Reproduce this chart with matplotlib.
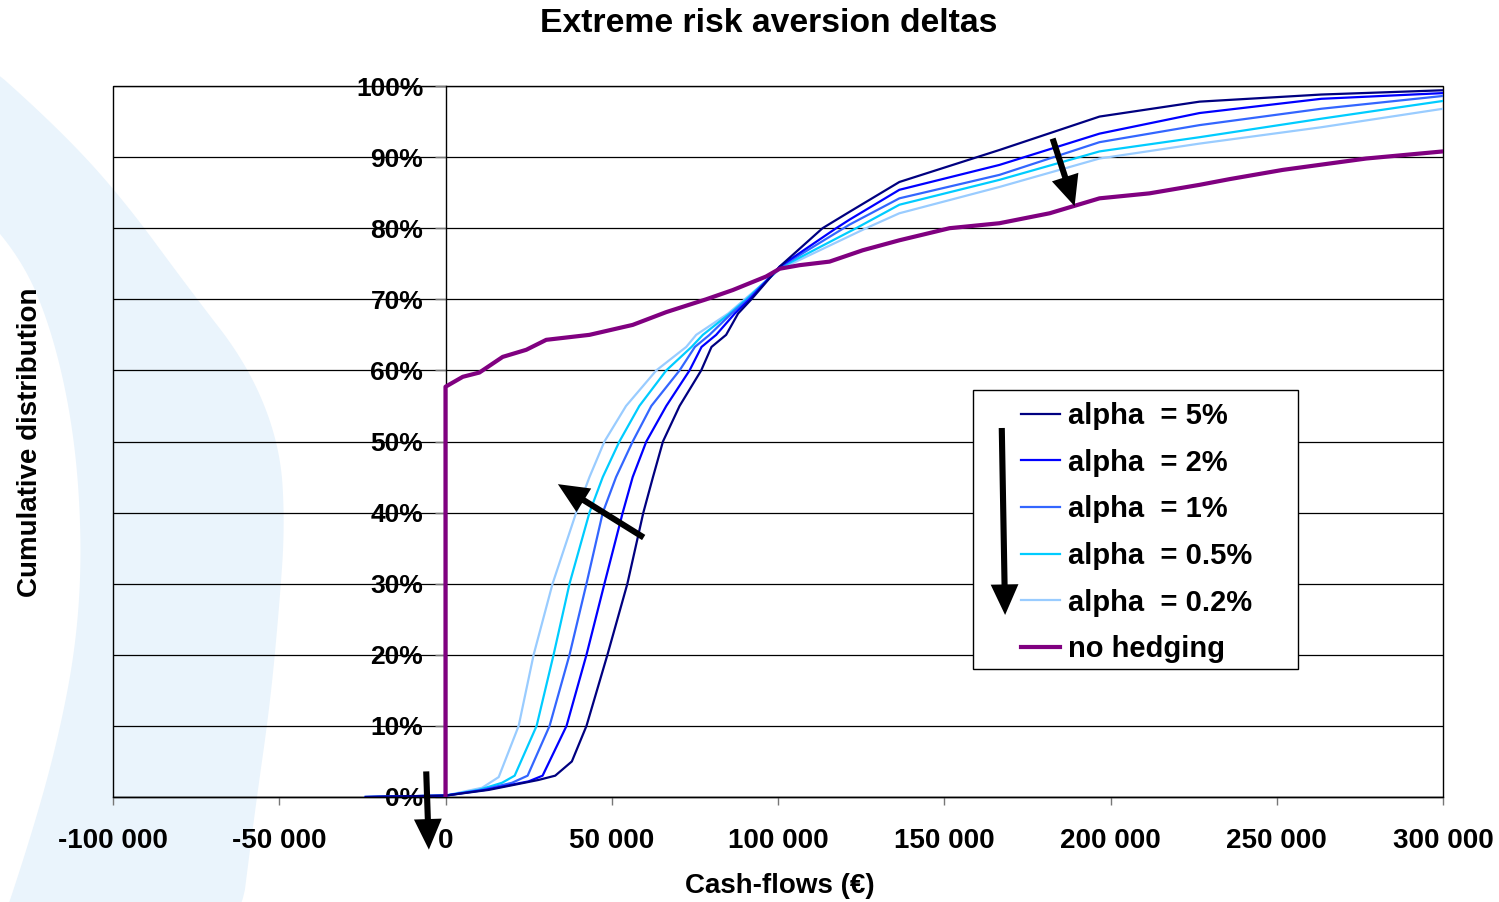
import matplotlib as mplt
mplt.use('Agg')
import matplotlib.pyplot as plt
import numpy as np
from matplotlib.patches import Rectangle, Polygon, FancyArrowPatch
from matplotlib.transforms import IdentityTransform
from matplotlib.ticker import FuncFormatter, PercentFormatter

mplt.rcParams['font.family'] = ['Liberation Sans', 'DejaVu Sans']
mplt.rcParams['font.weight'] = 'bold'

# cash-flow (x 1000 EUR) and cumulative share (%)
x_a5 = [-24, 0, 13, 28, 33, 38, 42.4, 48.7, 54.7, 59.5, 62.4, 65.4, 70.4, 76.9, 80, 84.4,
        88, 92, 100.5, 113.4, 121.5, 136.5, 166.6, 196.7, 226.8, 263.4, 300]
y_a5 = [0, 0.2, 1, 2.4, 3, 5, 10, 20, 30, 40, 45, 50, 55, 60, 63.3, 65,
        68, 70, 74.6, 80, 82.3, 86.5, 91, 95.7, 97.8, 98.8, 99.4]

x_a2 = [-24, 0, 12, 25, 29.2, 36.4, 42.4, 47.8, 53.3, 56.3, 60.4, 66.4, 73.4, 77, 81.4,
        87, 91.5, 100.5, 117.5, 121.5, 136.5, 166.6, 196.7, 226.8, 263.4, 300]
y_a2 = [0, 0.2, 1, 2.2, 3, 10, 20, 30, 40, 45, 50, 55, 60, 63.3, 65,
        68, 70, 74.6, 80, 81.2, 85.4, 88.9, 93.3, 96.2, 98.2, 99]

x_a1 = [-24, 0, 11, 20, 24.7, 31.3, 37.3, 42.4, 47.3, 51.3, 56.3, 61.9, 70.4, 75, 79.4,
        86, 91, 100.5, 121.5, 136.5, 166.6, 196.7, 226.8, 263.4, 300]
y_a1 = [0, 0.2, 1, 2, 3, 10, 20, 30, 40, 45, 50, 55, 60, 63.3, 65,
        68, 70, 74.5, 80.5, 84.2, 87.5, 92.1, 94.5, 96.8, 98.6]

x_a05 = [-24, 0, 10, 17, 20.8, 27.4, 32.5, 37.3, 43.3, 47.3, 52.3, 58.3, 66.4, 74, 77.4,
         85.5, 90.5, 100.5, 123.5, 136.5, 166.6, 196.7, 226.8, 263.4, 300]
y_a05 = [0, 0.2, 1, 2, 3, 10, 20, 30, 40, 45, 50, 55, 60, 63.3, 65,
         68, 70, 74.4, 80, 83.3, 86.8, 90.8, 92.8, 95.4, 97.9]

x_a02 = [-24, 0, 11, 16, 22, 26.5, 32.2, 39.3, 43.3, 47.8, 54.3, 63.4, 72.4, 75.4,
         85, 90, 100.5, 126.5, 136.5, 166.6, 196.7, 226.8, 263.4, 300]
y_a02 = [0, 0.2, 1.3, 2.8, 10, 20, 30, 40, 45, 50, 55, 60, 63.3, 65,
         68, 70, 74.2, 80, 82.1, 85.8, 89.8, 91.9, 94.2, 96.8]

x_noh = [0, 0, 5.2, 10.2, 17.2, 24.3, 30.3, 43.3, 56.3, 66.4, 78.4, 86.4, 96.4, 100.5,
         106.5, 115.5, 125.5, 136.5, 151.6, 166.6, 181.7, 196.7, 211.7, 226.8, 235.8,
         251.8, 276.9, 300]
y_noh = [0, 57.7, 59.1, 59.7, 61.9, 62.9, 64.3, 65, 66.4, 68.2, 70, 71.3, 73.2, 74.3,
         74.8, 75.3, 76.9, 78.3, 80, 80.7, 82.1, 84.2, 84.9, 86.1, 86.9,
         88.2, 89.8, 90.8]

series = [
    ("alpha  = 5%", x_a5, y_a5, "#000080", 1.6),
    ("alpha  = 2%", x_a2, y_a2, "#0000FF", 1.6),
    ("alpha  = 1%", x_a1, y_a1, "#3366FF", 1.6),
    ("alpha  = 0.5%", x_a05, y_a05, "#00CCFF", 1.6),
    ("alpha  = 0.2%", x_a02, y_a02, "#99CCFF", 1.6),
    ("no hedging", x_noh, y_noh, "#800080", 3.0),
]

W, H = 1499, 902
fig = plt.figure(figsize=(W / 100, H / 100), dpi=100)


def chaikin(pts, n=4):
    # corner cutting, only to round off the watermark outline
    p = np.asarray(pts, float)
    for _ in range(n):
        q = np.roll(p, -1, axis=0)
        p = np.column_stack([0.75 * p + 0.25 * q, 0.25 * p + 0.75 * q]).reshape(-1, 2)
    return p


# light blue crescent watermark on the left (image pixels, y from top)
crescent = [(-40, 40), (55, 125), (120, 195), (190, 290), (248, 365), (280, 445),
            (285, 525), (279, 610), (270, 705), (255, 810), (236, 960), (-10, 960),
            (30, 840), (58, 740), (77, 640), (82, 540), (74, 430), (52, 330),
            (20, 255), (-40, 190)]
outline = chaikin(crescent)
fig.patches.append(Polygon([(px, H - py) for px, py in outline], closed=True,
                           transform=IdentityTransform(), facecolor="#EAF4FC",
                           edgecolor="none", zorder=-6))

ax = fig.add_axes([113 / W, 1 - 797 / H, (1443 - 113) / W, (797 - 86) / H])
ax.set_facecolor("none")

order = [4, 3, 2, 1, 0, 5]
handles = {}
for i in order:
    label, xs, ys, color, lw = series[i]
    ln, = ax.plot([v * 1000 for v in xs], ys, color=color, lw=lw, zorder=3, label=label)
    handles[i] = ln

ax.set_xlim(-100000, 300000)
ax.set_ylim(0, 100)
ax.set_xticks(range(-100000, 300001, 50000))
ax.set_yticks(range(0, 101, 10))
ax.xaxis.set_major_formatter(FuncFormatter(lambda v, p: f"{int(v):,}".replace(",", " ")))
ax.yaxis.set_major_formatter(PercentFormatter(xmax=100, decimals=0))

ax.grid(axis="y", color="black", lw=0.9, zorder=1)
for s in ["top", "right"]:
    ax.spines[s].set_visible(False)
ax.spines["left"].set_position(("data", 0))
ax.spines["left"].set_linewidth(1.0)
ax.spines["bottom"].set_linewidth(1.0)
ax.add_patch(Rectangle((0, 0), 1, 1, transform=ax.transAxes, fill=False,
                       ec="black", lw=1.0, zorder=1, clip_on=False))

ax.tick_params(axis="x", length=6, width=1, color="#777777", labelsize=20, pad=16)
ax.tick_params(axis="y", length=8, width=1, color="#777777", labelsize=19, pad=8)
for t in ax.get_xticklabels() + ax.get_yticklabels():
    t.set_fontweight("bold")

# legend with its own box
ax.add_patch(Rectangle((973 / W, 1 - 669 / H), (1298 - 973) / W, (669 - 390) / H,
                       transform=fig.transFigure, facecolor="white", edgecolor="black",
                       lw=1.0, zorder=4, clip_on=False))
leg = ax.legend([handles[i] for i in range(6)], [series[i][0] for i in range(6)],
                loc="upper left", bbox_to_anchor=(1021 / W, 1 - 402 / H),
                bbox_transform=fig.transFigure, frameon=False, borderpad=0,
                borderaxespad=0, handlelength=1.34, handletextpad=0.28,
                labelspacing=0.64, prop={"size": 21, "weight": "bold"})

# arrows
arrow_style = "simple,head_length=1.1,head_width=1.0,tail_width=0.22"
arrows = [
    ((182.6e3, 92.6), (189.2e3, 83.1)),
    ((59.6e3, 36.5), (33.8e3, 44.0)),
    ((167.3e3, 51.9), (168.3e3, 25.6)),
    ((-5.8e3, 3.6), (-5.0e3, -7.4)),
]
for tail, tip in arrows:
    ar = FancyArrowPatch(tail, tip, arrowstyle=arrow_style, mutation_scale=20,
                         color="black", lw=0, zorder=6, clip_on=False,
                         shrinkA=0, shrinkB=0)
    ax.add_patch(ar)

fig.text(769 / W, 1 - 24 / H, "Extreme risk aversion deltas", ha="center", va="center",
         fontsize=24.3, fontweight="bold")
fig.text(780 / W, 1 - 886 / H, "Cash-flows (€)", ha="center", va="center",
         fontsize=20, fontweight="bold")
fig.text(30 / W, 1 - 442 / H, "Cumulative distribution", ha="center", va="center",
         rotation=90, fontsize=20, fontweight="bold")

fig.savefig("out.png", dpi=100)
